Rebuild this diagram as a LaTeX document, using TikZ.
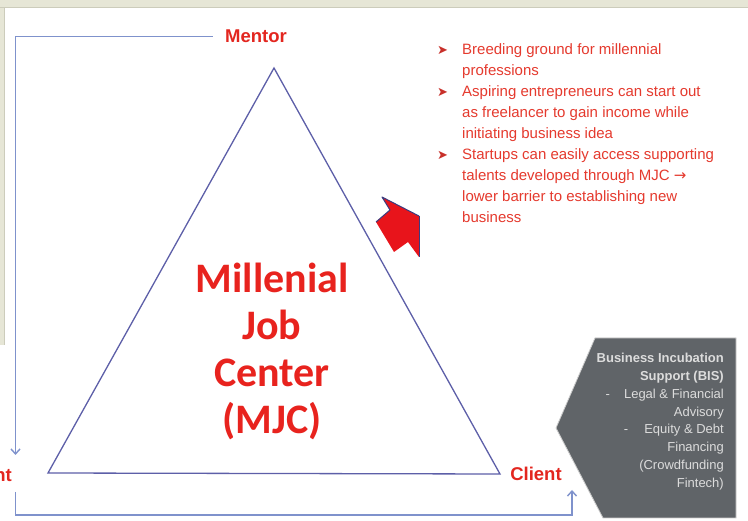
\documentclass[tikz,border=0pt]{standalone}
\usepackage{fontspec}
\setmainfont{Liberation Sans}
\newfontfamily\mjcfont{Carlito}
\newfontfamily\symfont{DejaVu Sans}
\usetikzlibrary{arrows.meta,calc}

\definecolor{labelred}{HTML}{E3261F}
\definecolor{titlered}{HTML}{E8231E}
\definecolor{listred}{HTML}{E53A2E}
\definecolor{bulletred}{HTML}{C8302A}
\definecolor{connblue}{HTML}{7F92CC}
\definecolor{triblue}{HTML}{5D5FA8}
\definecolor{bisgrey}{HTML}{606468}
\definecolor{bistext}{HTML}{DCDCDC}
\definecolor{framebg}{HTML}{E6E6D6}
\definecolor{frameline}{HTML}{CCCCBB}
\definecolor{arrowred}{HTML}{E8141B}
\definecolor{arrowedge}{HTML}{3A3C80}

\newcommand{\listbullet}{\makebox[25pt][l]{\color{bulletred}\symfont\fontsize{13}{21}\selectfont ➤}}
\newcommand{\listarrow}{{\symfont\fontsize{15}{21}\selectfont →}}

\tikzset{
  rolelabel/.style={font=\bfseries\fontsize{18.5}{22}\selectfont, text=labelred, inner sep=0pt},
  conn/.style={draw=connblue, line width=1.4pt, -{Straight Barb[length=5pt,width=9pt]}},
  trianglepath/.style={draw=triblue, line width=1.3pt, line join=miter},
}

\begin{document}
\begin{tikzpicture}[x=1pt, y=-1pt]
  \useasboundingbox (0,0) rectangle (748,521);
  \fill[white] (0,0) rectangle (748,521);

  % window frame strips
  \fill[framebg] (0,0) rectangle (748,8);
  \draw[frameline, line width=1.2pt] (0,7.5) -- (748,7.5);
  \fill[framebg] (0,8) rectangle (4,345);
  \draw[frameline, line width=0.8pt] (4,8) -- (4,345);

  % the triangle
  \coordinate (apex) at (274,68);
  \coordinate (bl) at (48,473);
  \coordinate (br) at (500,474);
  \draw[trianglepath] (apex) -- (bl) -- (br) -- cycle;

  % corner labels
  \node[rolelabel, anchor=base, inner xsep=12pt] (mentor) at (256,43) {Mentor};
  \node[rolelabel, anchor=base] (client) at (536,481) {Client};
  \node[rolelabel, anchor=base east] (talent) at (12,482) {nt};

  % centre title
  \node[anchor=base, inner sep=0pt, text=titlered,
        font=\mjcfont\bfseries\fontsize{42}{47}\selectfont] (mjc) at (272,293)
    {\begin{tabular}[t]{@{}c@{}}Millenial\\Job\\Center\\(MJC)\end{tabular}};

  % connectors
  \coordinate (talentIn) at (15.5,455);
  \coordinate (talentOut) at (15.5,492);
  \coordinate (clientIn) at (572,490);
  \coordinate (loopBottom) at (572,515);
  \draw[conn] (mentor.west) -| (talentIn);
  \draw[conn] (talentOut) |- (loopBottom) -- (clientIn);

  % red block arrow
  \coordinate (a1) at (382,197);
  \coordinate (a2) at (419,216);
  \coordinate (a3) at (419,257);
  \coordinate (a4) at (408,242);
  \coordinate (a5) at (394,252);
  \coordinate (a6) at (376,222);
  \coordinate (a7) at (390,210);
  \fill[arrowred] (a1) -- (a2) -- (a3) -- (a4) -- (a5) -- (a6) -- (a7) -- cycle;
  \draw[arrowedge, line width=1pt, line join=round] (a6) -- (a7) -- (a1) -- (a2);
  \draw[arrowedge, line width=0.8pt] (a2) -- (a3);

  % benefits list
  \node[anchor=base west, inner sep=0pt, text=listred,
        font=\fontsize{15}{21}\selectfont] (gains) at (437,55)
    {\begin{tabular}[t]{@{}l@{}l@{}}
      \listbullet & Breeding ground for millennial\\
      & professions\\
      \listbullet & Aspiring entrepreneurs can start out\\
      & as freelancer to gain income while\\
      & initiating business idea\\
      \listbullet & Startups can easily access supporting\\
      & talents developed through MJC \listarrow\\
      & lower barrier to establishing new\\
      & business
    \end{tabular}};

  % business incubation support panel
  \coordinate (b1) at (595,338);
  \coordinate (b2) at (736,338);
  \coordinate (b3) at (736,518);
  \coordinate (b4) at (603,518);
  \coordinate (b5) at (556,428);
  \fill[bisgrey] (b1) -- (b2) -- (b3) -- (b4) -- (b5) -- cycle;
  \draw[gray!40, line width=0.8pt] (b1) -- (b2) -- (b3) -- (b4) -- (b5) -- cycle;
  \node[anchor=base east, inner sep=0pt, text=bistext,
        font=\fontsize{13}{17.8}\selectfont] (bis) at (724,362.7)
    {\begin{tabular}[t]{@{}r@{}}
      \textbf{Business Incubation}\\
      \textbf{Support (BIS)}\\
      -\hspace{14pt}Legal \& Financial\\
      Advisory\\
      -\hspace{16pt}Equity \& Debt\\
      Financing\\
      (Crowdfunding\\
      Fintech)
    \end{tabular}};
\end{tikzpicture}
\end{document}
